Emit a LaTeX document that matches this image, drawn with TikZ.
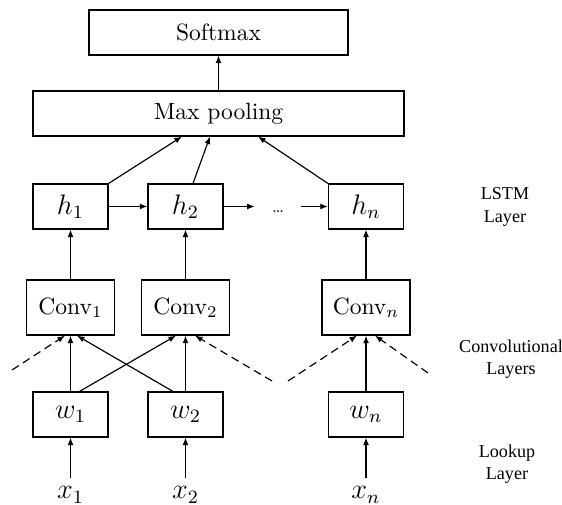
\documentclass[tikz,border=0pt]{standalone}
\usepackage{fontspec}
\newfontfamily\layerfont{Liberation Serif}
\usetikzlibrary{calc,arrows.meta}
\tikzset{
  cell/.style={draw,inner sep=0pt,minimum width=31.9pt,minimum height=19.1pt,font=\large},
  convcell/.style={draw,inner sep=0pt,minimum width=37.4pt,minimum height=23.4pt},
  widecell/.style={draw,inner sep=0pt,minimum height=19.1pt},
  flow/.style={-{Latex[length=3.2pt,width=2.5pt]}},
  flowdashed/.style={flow,dash pattern=on 3.4pt off 2.1pt},
  layername/.style={font=\layerfont\fontsize{7.7}{9.4}\selectfont,align=center}
}

\begin{document}
\begin{tikzpicture}[x=0.425pt,y=-0.425pt,line width=0.5pt]
  \useasboundingbox (0,0) rectangle (562,505);

  % output part
  \node[widecell,minimum width=110.1pt] (softmax) at (218.5,32.5) {Softmax};
  \node[widecell,minimum width=157.7pt] (maxpool) at (218.5,113.5) {Max pooling};
  \draw[flow] (maxpool.north) -- (softmax.south);

  % lstm layer
  \node[cell] (h1) at (70.5,206.5) {$h_1$};
  \node[cell] (h2) at (185.5,206.5) {$h_2$};
  \node[cell] (hn) at (366,206.5) {$h_n$};
  \node[inner xsep=7pt,inner ysep=0pt,anchor=base] (dots) at (278,213) {\scriptsize\ldots};
  \draw[flow] (h1.east) -- (h2.west);
  \draw[flow] (h2.east) -- (h2.east -| dots.west);
  \draw[flow] (hn.west -| dots.east) -- (hn.west);
  \draw[flow] (h1.north east) -- ($(maxpool.south)+(-36.5,0)$);
  \draw[flow] ($(h2.north)+(7.5,0)$) -- ($(maxpool.south)+(-8.5,0)$);
  \draw[flow] (hn.north west) -- ($(maxpool.south)+(39.5,0)$);

  % convolutional layers
  \node[convcell] (conv1) at (70.5,307.5) {Conv$_1$};
  \node[convcell] (conv2) at (185.5,307.5) {Conv$_2$};
  \node[convcell] (convn) at (366,307.5) {Conv$_n$};
  \draw[flow] (conv1.north) -- (h1.south);
  \draw[flow] (conv2.north) -- (h2.south);
  \draw[flow] (convn.north) -- (hn.south);

  % lookup layer
  \node[cell] (w1) at (70.5,414.5) {$w_1$};
  \node[cell] (w2) at (185.5,414.5) {$w_2$};
  \node[cell] (wn) at (366,414.5) {$w_n$};
  \draw[flow] (w1.north) -- (conv1.south);
  \draw[flow] (w2.north) -- (conv2.south);
  \draw[flow] (wn.north) -- (convn.south);
  \draw[flow] ($(w1.north)+(9,0)$) -- ($(conv2.south)+(-9.5,0)$);
  \draw[flow] ($(w2.north)+(-12.5,0)$) -- ($(conv1.south)+(6.5,0)$);

  % neighbouring windows
  \coordinate (lft1) at (12,370);
  \coordinate (rgt2) at (272,381);
  \coordinate (lftn) at (288,381);
  \coordinate (rgtn) at (428,373);
  \draw[flowdashed] (lft1) -- ($(conv1.south)+(-5.5,0)$);
  \draw[flowdashed] (rgt2) -- ($(conv2.south)+(9.5,0)$);
  \draw[flowdashed] (lftn) -- ($(convn.south)+(-9,0)$);
  \draw[flowdashed] (rgtn) -- ($(convn.south)+(9,0)$);

  % inputs
  \node[anchor=base,font=\large] (x1) at (70.5,499) {$x_1$};
  \node[anchor=base,font=\large] (x2) at (185.5,499) {$x_2$};
  \node[anchor=base,font=\large] (xn) at (366,499) {$x_n$};
  \draw[flow] (x1) -- (w1);
  \draw[flow] (x2) -- (w2);
  \draw[flow] (xn) -- (wn);

  % layer names
  \node[layername] (lstmname) at (505,207) {LSTM\\Layer};
  \node[layername] (convname) at (511,359) {Convolutional\\Layers};
  \node[layername] (lookname) at (507,464) {Lookup\\Layer};
\end{tikzpicture}
\end{document}
